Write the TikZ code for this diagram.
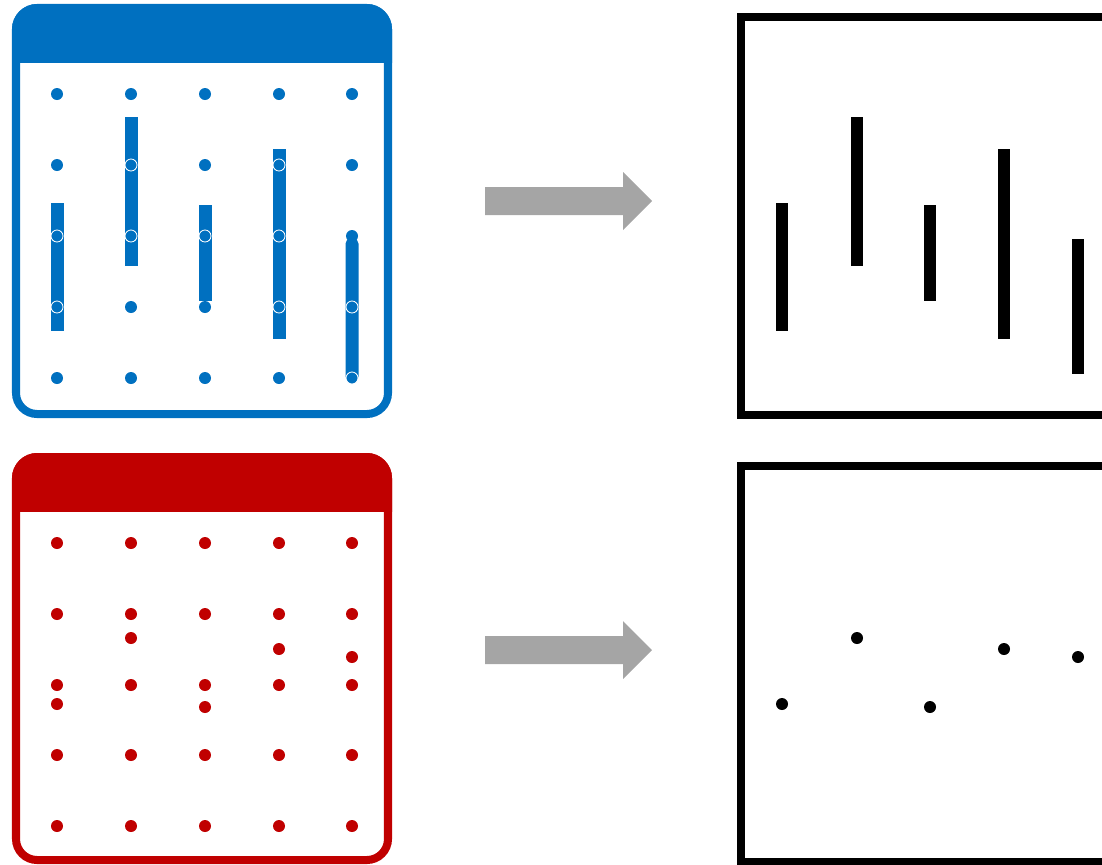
\documentclass[tikz,border=0pt]{standalone}
\usepackage{tikz}
\definecolor{gridblue}{HTML}{0070C0}
\definecolor{gridred}{HTML}{C00000}
\definecolor{arrowgray}{HTML}{A5A5A5}
\begin{document}
\begin{tikzpicture}[x=0.025cm,y=-0.025cm]
			\useasboundingbox (0,0) rectangle (1102,864);
			\clip (0,0) rectangle (1102,864);
			% blue panel
			\draw [gridblue, line width=5.7pt, rounded corners=15pt] (16,8) rectangle (388,414);
			\begin{scope}
				\clip (0,0) rectangle (400,62);
				\fill [gridblue, rounded corners=18pt] (12,4) rectangle (392,120);
			\end{scope}
			\foreach \x in {57,131,205,279,352}
				\foreach \y in {94,165,236,307,378}
					\fill [gridblue] (\x,\y) circle (6);
			\fill [gridblue] (50.5,203) rectangle (63.5,331);
			\fill [gridblue] (124.5,117) rectangle (137.5,266);
			\fill [gridblue] (198.5,205) rectangle (211.5,301);
			\fill [gridblue] (272.5,149) rectangle (285.5,339);
			\fill [gridblue, rounded corners=4pt] (345.5,238) rectangle (358.5,382);
			\foreach \x/\y in {57/236,57/307,131/165,131/236,205/236,279/165,279/236,279/307,352/307,352/378}
				\draw [white, line width=0.6pt] (\x,\y) circle (6);
			% red panel
			\draw [gridred, line width=5.7pt, rounded corners=15pt] (16,457) rectangle (388,860);
			\begin{scope}
				\clip (0,440) rectangle (400,511);
				\fill [gridred, rounded corners=18pt] (12,453) rectangle (392,570);
			\end{scope}
			\foreach \x in {57,131,205,279,352}
				\foreach \y in {543,614,685,755,826}
					\fill [gridred] (\x,\y) circle (6);
			\foreach \x/\y in {131/638,279/649,352/657,57/704,205/707}
				\fill [gridred] (\x,\y) circle (6);
			% arrows
			\fill [arrowgray] (485,187) -- (623,187) -- (623,172) -- (652,201) -- (623,230) -- (623,215) -- (485,215) -- cycle;
			\fill [arrowgray] (485,636) -- (623,636) -- (623,621) -- (652,650) -- (623,679) -- (623,664) -- (485,664) -- cycle;
			% results
			\draw [line width=5.7pt] (741,17) rectangle (1130,415);
			\fill (776,203) rectangle (788,331);
			\fill (851,117) rectangle (863,266);
			\fill (924,205) rectangle (936,301);
			\fill (998,149) rectangle (1010,339);
			\fill (1072,239) rectangle (1084,374);
			\draw [line width=5.7pt] (741,466) rectangle (1130,862);
			\fill (782,704) circle (6);
			\fill (857,638) circle (6);
			\fill (930,707) circle (6);
			\fill (1004,649) circle (6);
			\fill (1078,657) circle (6);
		\end{tikzpicture}
\end{document}
